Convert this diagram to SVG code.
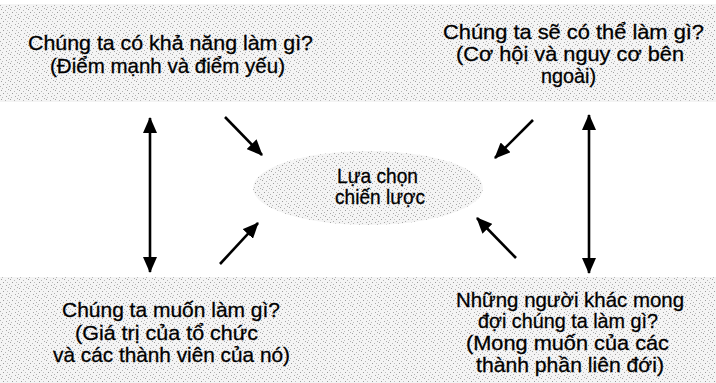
<svg xmlns="http://www.w3.org/2000/svg" width="716" height="383" viewBox="0 0 716 383">
<style>
  text { font-family: "Liberation Sans", Arial, sans-serif; font-size: 21px; fill: #000; stroke: #000; stroke-width: 0.3; text-anchor: middle; }
  .bg { fill: url(#stip); }
  .conn line { stroke: #000; stroke-width: 2.6; fill: none; }
  .one { marker-end: url(#ah); }
  .two { marker-start: url(#ah); marker-end: url(#ah); }
</style>
<defs>
  <pattern id="stip" patternUnits="userSpaceOnUse" x="0" y="0" width="9" height="9">
    <rect width="9" height="9" fill="#f4f4f4"/>
    <rect x="1" y="0" width="1" height="1" fill="#a0a0a0"/>
    <rect x="5" y="1" width="1" height="1" fill="#b5b5b5"/>
    <rect x="3" y="3" width="1" height="1" fill="#9a9a9a"/>
    <rect x="7" y="3" width="1" height="1" fill="#c0c0c0"/>
    <rect x="0" y="5" width="1" height="1" fill="#b0b0b0"/>
    <rect x="6" y="6" width="1" height="1" fill="#a5a5a5"/>
    <rect x="2" y="7" width="1" height="1" fill="#bababa"/>
    <rect x="8" y="8" width="1" height="1" fill="#acacac"/>
  </pattern>
  <marker id="ah" viewBox="0 0 16 14" refX="15" refY="7" markerWidth="16" markerHeight="14" markerUnits="userSpaceOnUse" orient="auto-start-reverse">
    <path d="M0,0 L16,7 L0,14 z" fill="#000"/>
  </marker>
</defs>
<rect width="716" height="383" fill="#ffffff"/>

<g id="node-strengths">
  <rect class="bg" x="0" y="4" width="358" height="98"/>
  <text x="170.5" y="50" textLength="285" lengthAdjust="spacingAndGlyphs">Chúng ta có khả năng làm gì?</text>
  <text x="167.5" y="73" textLength="235" lengthAdjust="spacingAndGlyphs">(Điểm mạnh và điểm yếu)</text>
</g>

<g id="node-opportunities">
  <rect class="bg" x="358" y="4" width="358" height="98"/>
  <text x="573.5" y="39" textLength="261" lengthAdjust="spacingAndGlyphs">Chúng ta sẽ có thể làm gì?</text>
  <text x="570" y="61" textLength="228" lengthAdjust="spacingAndGlyphs">(Cơ hội và nguy cơ bên</text>
  <text x="568.5" y="83" textLength="55" lengthAdjust="spacingAndGlyphs">ngoài)</text>
</g>

<g id="node-values">
  <rect class="bg" x="0" y="277" width="358" height="106"/>
  <text x="171" y="317" textLength="218" lengthAdjust="spacingAndGlyphs">Chúng ta muốn làm gì?</text>
  <text x="166.5" y="340" textLength="183" lengthAdjust="spacingAndGlyphs">(Giá trị của tổ chức</text>
  <text x="171.5" y="362" textLength="237" lengthAdjust="spacingAndGlyphs">và các thành viên của nó)</text>
</g>

<g id="node-stakeholders">
  <rect class="bg" x="358" y="277" width="358" height="106"/>
  <text x="570" y="307" textLength="228" lengthAdjust="spacingAndGlyphs">Những người khác mong</text>
  <text x="568" y="328" textLength="180" lengthAdjust="spacingAndGlyphs">đợi chúng ta làm gì?</text>
  <text x="567.5" y="350" textLength="203" lengthAdjust="spacingAndGlyphs">(Mong muốn của các</text>
  <text x="570" y="372" textLength="188" lengthAdjust="spacingAndGlyphs">thành phần liên đới)</text>
</g>

<g id="node-strategy">
  <ellipse class="bg" cx="368" cy="188" rx="115" ry="37"/>
  <text x="377.5" y="183" textLength="81" lengthAdjust="spacingAndGlyphs">Lựa chọn</text>
  <text x="380" y="204" textLength="90" lengthAdjust="spacingAndGlyphs">chiến lược</text>
</g>

<g id="connectors" class="conn">
  <line class="two" x1="150" y1="118" x2="150" y2="272"/>
  <line class="two" x1="589" y1="115" x2="589" y2="273"/>
  <line class="one" x1="225" y1="117" x2="262" y2="155"/>
  <line class="one" x1="220" y1="264" x2="258" y2="223"/>
  <line class="one" x1="533" y1="120" x2="495" y2="158"/>
  <line class="one" x1="516" y1="258" x2="477" y2="218"/>
</g>
</svg>
